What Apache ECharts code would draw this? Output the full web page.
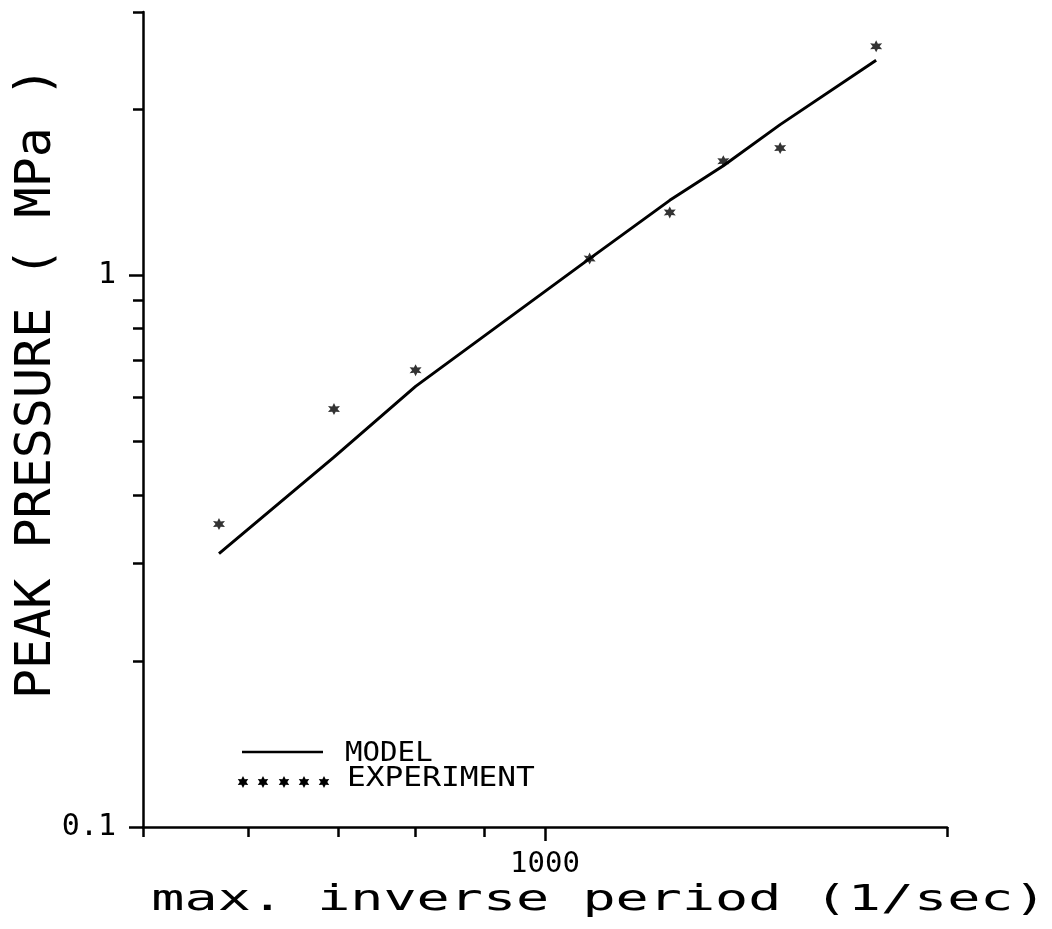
<!DOCTYPE html>
<html>
<head>
<meta charset="utf-8">
<script src="https://cdn.jsdelivr.net/npm/echarts@6/dist/echarts.min.js"></script>
<style>
  html, body { margin: 0; padding: 0; background: #ffffff; }
  #chart { width: 1052px; height: 929px; }
</style>
</head>
<body>
<div id="chart"></div>
<script>
// Maximum inverse period (1/sec) of each test
const periodX = [570, 695, 800, 1080, 1240, 1360, 1500, 1770];
// Measured peak pressure (MPa)
const experimentP = [0.354, 0.572, 0.673, 1.072, 1.30, 1.61, 1.70, 2.60];
// Model prediction at the same inverse periods (MPa)
const modelP = [0.313, 0.468, 0.629, 1.072, 1.367, 1.579, 1.875, 2.453];

// Tick positions of the two log axes
const xMajorTicks = [1000];
const xMinorTicks = [500, 600, 700, 800, 900, 2000];
const yMajorTicks = [0.1, 1];
const yMinorTicks = [0.2, 0.3, 0.4, 0.5, 0.6, 0.7, 0.8, 0.9, 2, 3];

const seriesNames = ['MODEL', 'EXPERIMENT'];
const xTitle = 'max. inverse period (1/sec)';
const yTitle = 'PEAK PRESSURE ( MPa )';

const INK = '#000000';
const MONO = '"DejaVu Sans Mono", "Liberation Mono", monospace';
const STAR = 'path://M0 -10 L2.5 -4.33 L8.66 -5 L5 0 L8.66 5 L2.5 4.33 L0 10 L-2.5 4.33 L-8.66 5 L-5 0 L-8.66 -5 L-2.5 -4.33 Z';

function starPoints(cx, cy, r) {
  const pts = [];
  for (let k = 0; k < 12; k++) {
    const a = -Math.PI / 2 + k * Math.PI / 6;
    const rr = k % 2 === 0 ? r : r * 0.55;
    pts.push([cx + rr * Math.cos(a), cy + rr * Math.sin(a)]);
  }
  return pts;
}

function tickLabel(v) {
  return v >= 1 ? String(Math.round(v)) : v.toFixed(1);
}

const modelData = periodX.map((x, i) => [x, modelP[i]]);
const experimentData = periodX.map((x, i) => [x, experimentP[i]]);

const grid = { left: 143, top: 12, width: 804, height: 815 };

const xBase = { type: 'log', logBase: 10, min: 500, max: 2000, gridIndex: 0, position: 'bottom', splitLine: { show: false } };
const yBase = { type: 'log', logBase: 10, min: 0.1, max: 3, gridIndex: 0, position: 'left', splitLine: { show: false } };

// legend drawn by hand: a line sample and a row of five stars
const legendStars = [243, 263, 284, 304, 324].map(cx => ({
  type: 'polygon',
  shape: { points: starPoints(cx, 782, 6) },
  style: { fill: INK },
  silent: true
}));

const option = {
  backgroundColor: '#ffffff',
  animation: false,
  grid: grid,
  xAxis: [
    Object.assign({}, xBase, {
      axisLine: { show: true, lineStyle: { color: INK, width: 2.5 } },
      axisTick: { show: true, inside: false, length: 14, customValues: xMajorTicks, lineStyle: { color: INK, width: 2.5 } },
      axisLabel: { show: true, customValues: xMajorTicks, margin: 23, color: INK, fontFamily: MONO, fontSize: 29, formatter: tickLabel }
    }),
    Object.assign({}, xBase, {
      axisLine: { show: false },
      axisTick: { show: true, inside: false, length: 10, customValues: xMinorTicks, lineStyle: { color: INK, width: 2.5 } },
      axisLabel: { show: false }
    })
  ],
  yAxis: [
    Object.assign({}, yBase, {
      axisLine: { show: true, lineStyle: { color: INK, width: 2.5 } },
      axisTick: { show: true, inside: false, length: 14, customValues: yMajorTicks, lineStyle: { color: INK, width: 2.5 } },
      axisLabel: { show: true, customValues: yMajorTicks, margin: 27, color: INK, fontFamily: MONO, fontSize: 30, formatter: tickLabel }
    }),
    Object.assign({}, yBase, {
      axisLine: { show: false },
      axisTick: { show: true, inside: false, length: 10, customValues: yMinorTicks, lineStyle: { color: INK, width: 2.5 } },
      axisLabel: { show: false }
    })
  ],
  series: [
    {
      name: seriesNames[0],
      type: 'line',
      xAxisIndex: 0,
      yAxisIndex: 0,
      data: modelData,
      showSymbol: false,
      symbol: 'none',
      lineStyle: { color: INK, width: 3 },
      itemStyle: { color: INK },
      z: 3
    },
    {
      name: seriesNames[1],
      type: 'scatter',
      xAxisIndex: 0,
      yAxisIndex: 0,
      data: experimentData,
      symbol: STAR,
      symbolSize: 12,
      itemStyle: { color: INK },
      z: 4
    }
  ],
  graphic: [
    {
      type: 'text',
      x: 37, y: 383,
      rotation: Math.PI / 2,
      silent: true,
      style: {
        text: yTitle, fill: INK, fontFamily: MONO, fontSize: 50,
        align: 'center', verticalAlign: 'middle', textAlign: 'center', textVerticalAlign: 'middle'
      }
    },
    {
      type: 'text',
      x: 599, y: 901,
      scaleX: 1.53,
      silent: true,
      style: {
        text: xTitle, fill: INK, fontFamily: MONO, fontSize: 36,
        align: 'center', verticalAlign: 'middle', textAlign: 'center', textVerticalAlign: 'middle'
      }
    },
    {
      type: 'line',
      shape: { x1: 242, y1: 752, x2: 323, y2: 752 },
      style: { stroke: INK, lineWidth: 2.5 },
      silent: true
    },
    {
      type: 'text',
      x: 345, y: 754,
      scaleX: 1.12,
      silent: true,
      style: {
        text: seriesNames[0], fill: INK, fontFamily: MONO, fontSize: 26,
        align: 'left', verticalAlign: 'middle', textAlign: 'left', textVerticalAlign: 'middle'
      }
    },
    {
      type: 'text',
      x: 347, y: 779,
      scaleX: 1.2,
      silent: true,
      style: {
        text: seriesNames[1], fill: INK, fontFamily: MONO, fontSize: 26,
        align: 'left', verticalAlign: 'middle', textAlign: 'left', textVerticalAlign: 'middle'
      }
    }
  ].concat(legendStars)
};

const chart = echarts.init(document.getElementById('chart'), null, { renderer: 'canvas' });
chart.setOption(option);
</script>
</body>
</html>
